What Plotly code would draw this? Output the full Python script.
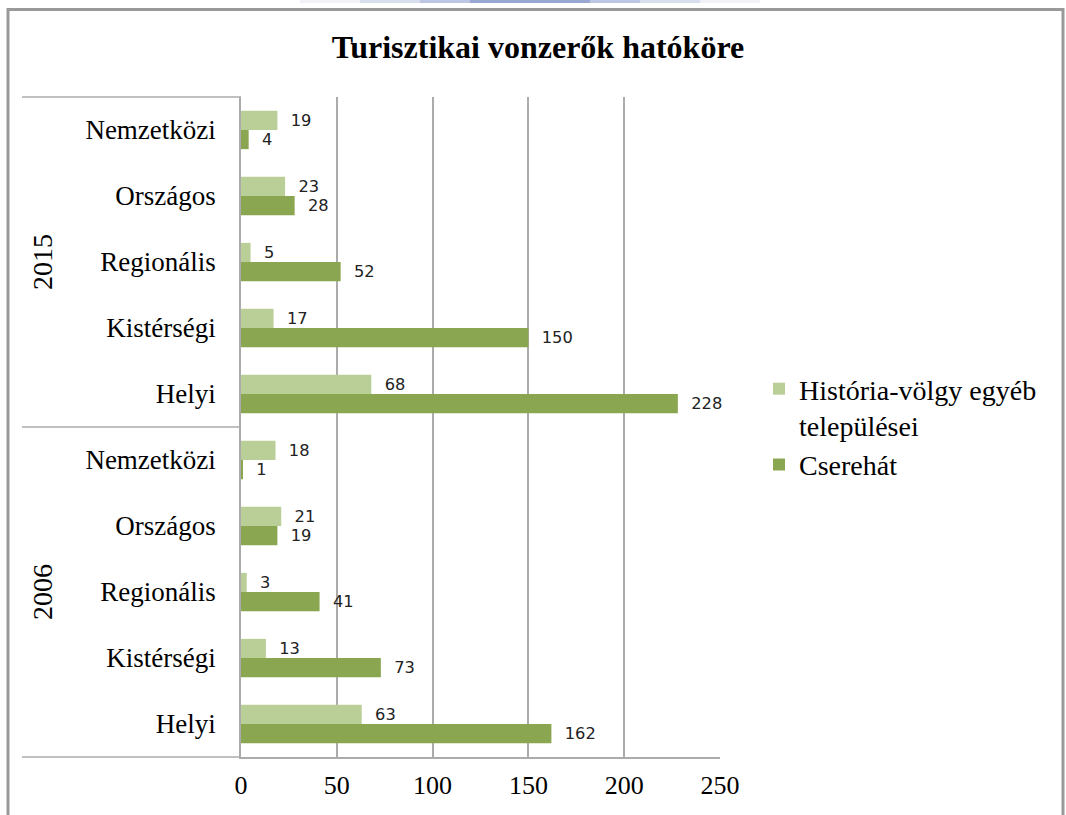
import plotly.graph_objects as go

# ---- data ----
years = ["2015", "2006"]
levels = ["Nemzetközi", "Országos", "Regionális", "Kistérségi", "Helyi"]
historia_2015 = [19, 23, 5, 17, 68]
cserehat_2015 = [4, 28, 52, 150, 228]
historia_2006 = [18, 21, 3, 13, 63]
cserehat_2006 = [1, 19, 41, 73, 162]
series_names = ["História-völgy egyéb<br>települései", "Cserehát"]
x_ticks = [0, 50, 100, 150, 200, 250]
title_text = "Turisztikai vonzerők hatóköre"

# category keys (top to bottom as in the chart)
keys_2015 = [f"2015|{lv}" for lv in levels]
keys_2006 = [f"2006|{lv}" for lv in levels]
keys = keys_2015 + keys_2006
labels = levels + levels
hist_vals = historia_2015 + historia_2006
cser_vals = cserehat_2015 + cserehat_2006

LIGHT = "#BACF98"
DARK = "#8BA651"
GRID = "#ABABAB"
SERIF = "Liberation Serif, Times New Roman, serif"
LABEL_FONT = dict(family="DejaVu Sans, sans-serif", size=17, color="#222222")

W, H = 1066, 815
L, R, T, B = 241, 720, 97, 757


def px2x(px):
    return (px - L) / (R - L)


def px2y(py):
    return (B - py) / (B - T)


fig = go.Figure()
fig.add_trace(go.Bar(
    y=keys, x=cser_vals, orientation="h", name=series_names[1],
    marker=dict(color=DARK, line=dict(width=0)),
    texttemplate="\u2007%{x}", textposition="outside",
    textfont=LABEL_FONT, cliponaxis=False, legendrank=2,
))
fig.add_trace(go.Bar(
    y=keys, x=hist_vals, orientation="h", name=series_names[0],
    marker=dict(color=LIGHT, line=dict(width=0)),
    texttemplate="\u2007%{x}", textposition="outside",
    textfont=LABEL_FONT, cliponaxis=False, legendrank=1,
))

shapes = []
# left category table lines
for py in [T, (T + B) / 2, B]:
    shapes.append(dict(type="line", xref="paper", yref="paper",
                       x0=px2x(22), x1=px2x(L), y0=px2y(py), y1=px2y(py),
                       line=dict(color=GRID, width=1.5)))
# outer frame
shapes.append(dict(type="rect", xref="paper", yref="paper",
                   x0=px2x(8), x1=px2x(1063), y0=px2y(9.5), y1=px2y(840),
                   line=dict(color="#999999", width=3), fillcolor="rgba(0,0,0,0)"))
# faint blue gradient at the very top
for (a, b, op) in [(300, 760, 0.08), (360, 700, 0.12), (420, 640, 0.18), (470, 590, 0.28)]:
    shapes.append(dict(type="rect", xref="paper", yref="paper",
                       x0=px2x(a), x1=px2x(b), y0=px2y(0), y1=px2y(3),
                       line=dict(width=0), fillcolor=f"rgba(60,90,170,{op})"))

annotations = []
for i, yr in enumerate(years):
    annotations.append(dict(
        text=yr, xref="paper", yref="paper", x=px2x(42), y=0.75 - 0.5 * i,
        textangle=-90, showarrow=False, xanchor="center", yanchor="middle",
        font=dict(family=SERIF, size=28, color="black")))

fig.update_layout(
    width=W, height=H,
    margin=dict(l=L, r=W - R, t=T, b=H - B, autoexpand=False),
    paper_bgcolor="white", plot_bgcolor="white",
    barmode="group", bargap=0.42, bargroupgap=0,
    title=dict(text=f"<b>{title_text}</b>", x=538 / W, xref="container", xanchor="center",
               y=1 - 47 / H, yref="container", yanchor="middle",
               font=dict(family=SERIF, size=32, color="black")),
    xaxis=dict(range=[0, 250], tickvals=x_ticks, ticktext=[str(t) for t in x_ticks],
               showgrid=True, gridcolor=GRID, gridwidth=1.5,
               showline=True, linecolor=GRID, linewidth=1.5, mirror=False,
               zeroline=False, ticks="", ticklabelstandoff=4,
               tickfont=dict(family=SERIF, size=26, color="black")),
    yaxis=dict(type="category", categoryorder="array", categoryarray=keys[::-1],
               tickvals=keys, ticktext=labels, range=[-0.5, 9.5],
               showgrid=False, showline=True, linecolor=GRID, linewidth=1.5,
               ticks="", ticklabelstandoff=18,
               tickfont=dict(family=SERIF, size=27, color="black")),
    legend=dict(x=759 / W, xref="container", y=1 - 364 / H, yref="container",
                xanchor="left", yanchor="top", valign="top",
                font=dict(family=SERIF, size=28, color="black"),
                bgcolor="rgba(0,0,0,0)", tracegroupgap=4),
    shapes=shapes, annotations=annotations, showlegend=True,
)
fig.write_html("out.html", config={"displayModeBar": False},
               post_script="document.body.style.margin='0px';document.body.style.overflow='hidden';")
